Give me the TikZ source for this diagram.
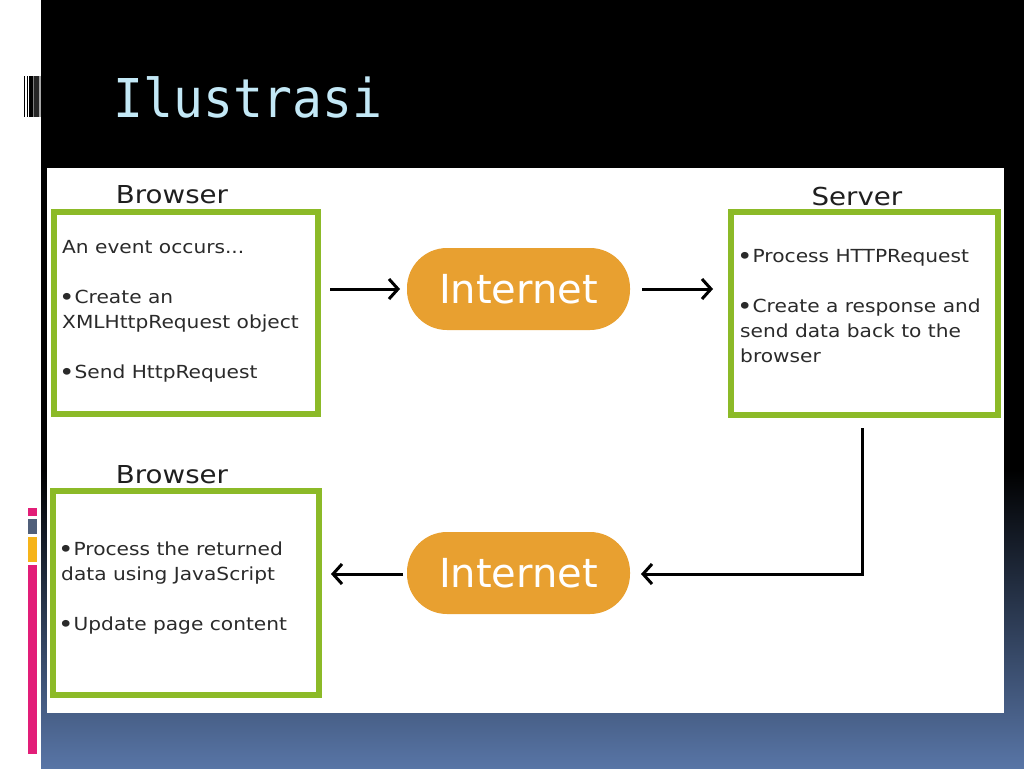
\documentclass[tikz,border=0pt]{standalone}
\usepackage{fontspec}
\usetikzlibrary{arrows.meta}
\newfontfamily\bodyfont{DejaVu Sans}[FakeStretch=1.12]
\newfontfamily\netfont{DejaVu Sans}
\newfontfamily\slidefont{DejaVu Sans Mono}[FakeStretch=0.93]
\newcommand\dotmark{\raisebox{-2.2pt}{\scalebox{1.3}{•}}}
\definecolor{boxgreen}{RGB}{140,186,40}
\definecolor{netorange}{RGB}{232,160,48}
\definecolor{titleblue}{RGB}{195,232,246}
\definecolor{slideblue}{RGB}{88,117,166}
\definecolor{textgray}{RGB}{42,42,42}
\definecolor{stripink}{RGB}{226,30,120}
\definecolor{stripgray}{RGB}{80,95,122}
\definecolor{striporange}{RGB}{246,180,26}
\pgfdeclarelayer{bglayer}
\pgfdeclarelayer{edgelayer}
\pgfdeclarelayer{nodelayer}
\pgfsetlayers{bglayer,edgelayer,nodelayer,main}
\tikzstyle{none} = []
\tikzstyle{slidetitle} = [anchor=base west, inner sep=0, text=titleblue, font=\slidefont\fontsize{53.5}{60}\selectfont]
\tikzstyle{panel} = [draw=boxgreen, line width=6pt, fill=white, inner sep=0]
\tikzstyle{pill} = [fill=netorange, rounded corners=40pt, minimum width=223pt, minimum height=82pt, text=white, font=\netfont\fontsize{40}{48}\selectfont]
\tikzstyle{head} = [anchor=base, inner sep=0, text=black!88, font=\bodyfont\fontsize{24.7}{30}\selectfont]
\tikzstyle{boxtext} = [anchor=base west, inner sep=0, text=textgray, font=\bodyfont\fontsize{18}{25}\selectfont]
\tikzstyle{flow} = [line width=3pt, -{Straight Barb[length=9pt,width=20pt]}]

\begin{document}
\begin{tikzpicture}[x=1pt, y=-1pt]
	\useasboundingbox (0, 0) rectangle (1024, 768);
	\begin{pgfonlayer}{bglayer}
		% slide background
		\fill [white] (0, 0) rectangle (1024, 768);
		\fill [black] (41, 0) rectangle (1024, 470);
		\shade [top color=black, bottom color=slideblue] (41, 470) rectangle (1024, 768);
		\fill [white] (47, 168) rectangle (1004, 713);
		% barcode mark
		\fill [black] (24.3, 76) rectangle (25.3, 117);
		\fill [black] (27, 76) rectangle (28, 117);
		\fill [black] (29.3, 76) rectangle (33.3, 117);
		\fill [gray] (33.3, 76) rectangle (34.3, 117);
		\fill [black!85] (34.3, 76) rectangle (39.3, 117);
		\fill [gray!70] (39.3, 76) rectangle (40.7, 117);
		% colour strip
		\fill [stripink] (28, 508) rectangle (37, 516);
		\fill [stripgray] (28, 519) rectangle (37, 534);
		\fill [striporange] (28, 537) rectangle (37, 562);
		\fill [stripink] (28, 565) rectangle (37, 754);
	\end{pgfonlayer}
	\begin{pgfonlayer}{nodelayer}
		\node [style=slidetitle] (0) at (113, 117) {Ilustrasi};
		\node [style=panel, minimum width=264pt, minimum height=202pt] (1) at (186, 313) {};
		\node [style=panel, minimum width=267pt, minimum height=203pt] (2) at (864.5, 313.5) {};
		\node [style=panel, minimum width=266pt, minimum height=204pt] (3) at (186, 593) {};
		\node [style=pill] (4) at (518.5, 289) {Internet};
		\node [style=pill] (5) at (518.5, 573) {Internet};
		\node [style=head] (6) at (172, 203) {Browser};
		\node [style=head] (7) at (857, 205) {Server};
		\node [style=head] (8) at (172, 483) {Browser};
		\node [style=boxtext] (9) at (62, 253) {An event occurs...};
		\node [style=boxtext] (10) at (59, 303) {\dotmark Create an};
		\node [style=boxtext] (11) at (62, 328) {XMLHttpRequest object};
		\node [style=boxtext] (12) at (59, 378) {\dotmark Send HttpRequest};
		\node [style=boxtext] (13) at (737, 262) {\dotmark Process HTTPRequest};
		\node [style=boxtext] (14) at (737, 312) {\dotmark Create a response and};
		\node [style=boxtext] (15) at (740, 337) {send data back to the};
		\node [style=boxtext] (16) at (740, 362) {browser};
		\node [style=boxtext] (17) at (58, 555) {\dotmark Process the returned};
		\node [style=boxtext] (18) at (61, 580) {data using JavaScript};
		\node [style=boxtext] (19) at (58, 630) {\dotmark Update page content};
		\node [style=none] (20) at (330, 289) {};
		\node [style=none] (21) at (400, 289) {};
		\node [style=none] (22) at (642, 289) {};
		\node [style=none] (23) at (713, 289) {};
		\node [style=none] (24) at (862, 428) {};
		\node [style=none] (25) at (641, 574) {};
		\node [style=none] (26) at (403, 574) {};
		\node [style=none] (27) at (331, 574) {};
	\end{pgfonlayer}
	\begin{pgfonlayer}{edgelayer}
		\draw [style=flow] (20.center) to (21.center);
		\draw [style=flow] (22.center) to (23.center);
		\draw [style=flow] (24.center) |- (25.center);
		\draw [style=flow] (26.center) to (27.center);
	\end{pgfonlayer}
\end{tikzpicture}
\end{document}
